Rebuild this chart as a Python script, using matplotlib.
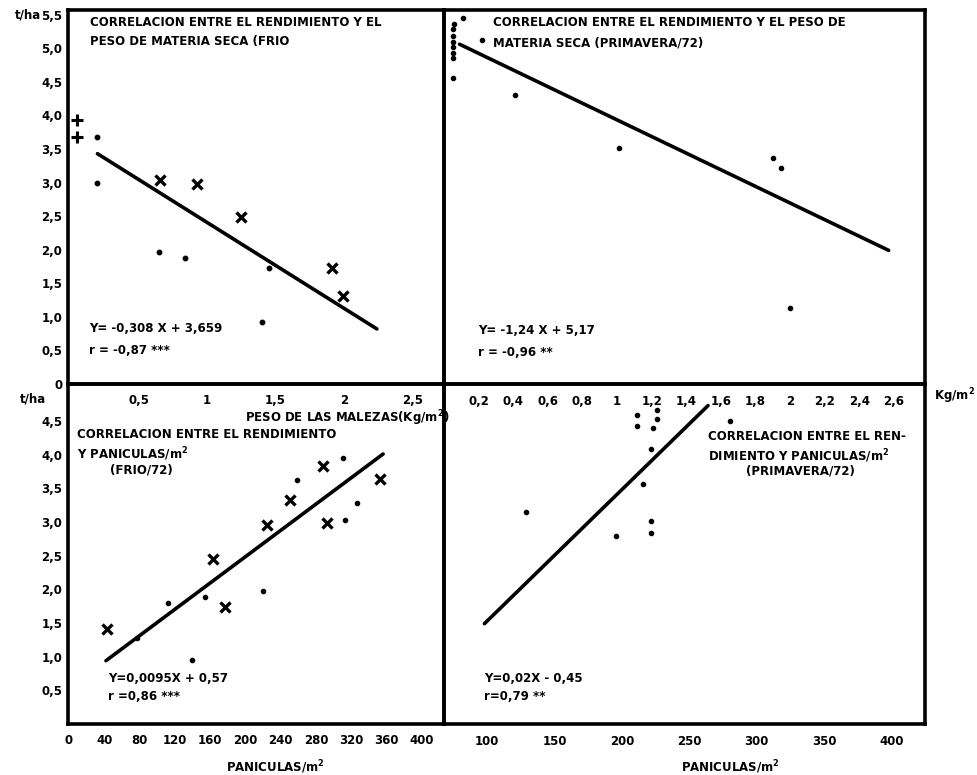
import numpy as np
import matplotlib
matplotlib.use("Agg")
import matplotlib.pyplot as plt

plt.rcParams['font.family'] = ['DejaVu Sans']
plt.rcParams['font.weight'] = 'bold'
plt.rcParams['mathtext.default'] = 'bf'

W, H = 978, 775

# --- top left: rendimiento vs peso de materia seca (FRIO) ---
tl_x_cross = [0.66, 0.93, 1.25, 1.91, 1.99]
tl_y_cross = [3.04, 2.98, 2.48, 1.73, 1.31]
tl_x_plus = [0.05, 0.05]
tl_y_plus = [3.93, 3.68]
tl_x_dot = [0.20, 0.20, 0.65, 0.84, 1.45, 1.40]
tl_y_dot = [3.68, 2.99, 1.96, 1.87, 1.73, 0.93]
tl_line_x = [0.20, 2.24]
tl_line_y = [3.43, 0.82]

# --- top right: rendimiento vs peso de materia seca (PRIMAVERA/72) ---
tr_x_dot = [0.11, 0.06, 0.05, 0.05, 0.05, 0.05, 0.05, 0.05, 0.05, 0.22, 0.41, 1.01, 1.90, 1.95, 2.00]
tr_y_dot = [5.45, 5.36, 5.28, 5.19, 5.10, 5.02, 4.93, 4.86, 4.55, 5.13, 4.31, 3.51, 3.37, 3.22, 1.13]
tr_line_x = [0.09, 2.57]
tr_line_y = [5.06, 1.99]

# --- bottom left: rendimiento vs paniculas/m2 (FRIO/72) ---
bl_x_cross = [43, 163, 177, 224, 250, 288, 293, 352]
bl_y_cross = [1.41, 2.45, 1.74, 2.96, 3.33, 3.83, 2.99, 3.64]
bl_x_dot = [77, 112, 139, 154, 220, 259, 311, 313, 326]
bl_y_dot = [1.28, 1.80, 0.95, 1.89, 1.98, 3.62, 3.95, 3.03, 3.28]
bl_line_x = [42, 356]
bl_line_y = [0.94, 4.01]

# --- bottom right: rendimiento vs paniculas/m2 (PRIMAVERA/72) ---
br_x_dot = [211, 211, 226, 226, 223, 222, 280, 216, 129, 196, 222, 222]
br_y_dot = [4.59, 4.43, 4.67, 4.53, 4.40, 4.09, 4.50, 3.57, 3.15, 2.79, 3.02, 2.84]
br_line_x = [98, 264]
br_line_y = [1.49, 4.73]

# tick labels
tl_yticks = [0, 0.5, 1, 1.5, 2, 2.5, 3, 3.5, 4, 4.5, 5, 5.5]
tl_ylabels = ["0", "0,5", "1,0", "1,5", "2,0", "2,5", "3,0", "3,5", "4,0", "4,5", "5,0", "5,5"]
tl_xticks = [0.5, 1, 1.5, 2, 2.5]
tl_xlabels = ["0,5", "1", "1,5", "2", "2,5"]
tr_xticks = [0.2, 0.4, 0.6, 0.8, 1.0, 1.2, 1.4, 1.6, 1.8, 2.0, 2.2, 2.4, 2.6]
tr_xlabels = ["0,2", "0,4", "0,6", "0,8", "1", "1,2", "1,4", "1,6", "1,8", "2", "2,2", "2,4", "2,6"]
bl_yticks = [0.5, 1, 1.5, 2, 2.5, 3, 3.5, 4, 4.5]
bl_ylabels = ["0,5", "1,0", "1,5", "2,0", "2,5", "3,0", "3,5", "4,0", "4,5"]
bl_xticks = [0, 40, 80, 120, 160, 200, 240, 280, 320, 360, 400]
br_xticks = [100, 150, 200, 250, 300, 350, 400]

fig = plt.figure(figsize=(W / 100, H / 100), dpi=100)


def px_axes(x0, y0, x1, y1):
    ax = fig.add_axes([x0 / W, 1 - y1 / H, (x1 - x0) / W, (y1 - y0) / H])
    ax.set_facecolor('none')
    return ax


def ftext(x, y, s, size=8.5, ha='left'):
    fig.text(x / W, 1 - y / H, s, fontsize=size, fontweight='bold', ha=ha, va='center')


def frame(ax):
    for sp in ax.spines.values():
        sp.set_linewidth(2.6)
    ax.tick_params(length=0, labelsize=8.5)
    for lab in ax.get_xticklabels() + ax.get_yticklabels():
        lab.set_fontweight('bold')


ax1 = px_axes(68, 10, 444, 384)
ax2 = px_axes(444, 10, 925, 384)
ax3 = px_axes(68, 384, 444, 724)
ax4 = px_axes(444, 384, 925, 724)

# top left
ax1.set_xlim(-0.015, 2.73)
ax1.set_ylim(0, 5.57)
ax1.plot(tl_line_x, tl_line_y, color='black', lw=2.6, solid_capstyle='round')
ax1.plot(tl_x_cross, tl_y_cross, 'x', color='black', ms=7, mew=2.4)
ax1.plot(tl_x_plus, tl_y_plus, '+', color='black', ms=9, mew=2.2, clip_on=False)
ax1.plot(tl_x_dot, tl_y_dot, 'o', color='black', ms=3.2)
ax1.set_yticks(tl_yticks)
ax1.set_yticklabels(tl_ylabels)
ax1.set_xticks(tl_xticks)
ax1.set_xticklabels(tl_xlabels)
ax1.tick_params(axis='x', pad=7)
ax1.tick_params(axis='y', pad=4)
frame(ax1)

# top right
ax2.set_xlim(0, 2.78)
ax2.set_ylim(0, 5.57)
ax2.plot(tr_line_x, tr_line_y, color='black', lw=2.6, solid_capstyle='round')
ax2.plot(tr_x_dot, tr_y_dot, 'o', color='black', ms=3.0)
ax2.set_yticks([])
ax2.set_xticks(tr_xticks)
ax2.set_xticklabels(tr_xlabels)
ax2.tick_params(axis='x', pad=8)
frame(ax2)

# bottom left
ax3.set_xlim(-1, 425)
ax3.set_ylim(0, 5.05)
ax3.plot(bl_line_x, bl_line_y, color='black', lw=2.6, solid_capstyle='round')
ax3.plot(bl_x_cross, bl_y_cross, 'x', color='black', ms=7, mew=2.4)
ax3.plot(bl_x_dot, bl_y_dot, 'o', color='black', ms=3.0)
ax3.set_yticks(bl_yticks)
ax3.set_yticklabels(bl_ylabels)
ax3.set_xticks(bl_xticks)
ax3.set_xticklabels([str(v) for v in bl_xticks])
ax3.tick_params(axis='x', pad=7)
ax3.tick_params(axis='y', pad=4)
frame(ax3)

# bottom right
ax4.set_xlim(68, 425)
ax4.set_ylim(0, 5.05)
ax4.plot(br_line_x, br_line_y, color='black', lw=2.6, solid_capstyle='round')
ax4.plot(br_x_dot, br_y_dot, 'o', color='black', ms=3.0)
ax4.set_yticks([])
ax4.set_xticks(br_xticks)
ax4.set_xticklabels([str(v) for v in br_xticks])
ax4.tick_params(axis='x', pad=8)
frame(ax4)

# panel texts
ftext(90, 23, "CORRELACION ENTRE EL RENDIMIENTO Y EL")
ftext(90, 42, "PESO DE MATERIA SECA (FRIO")
ftext(89, 328, "Y= -0,308 X + 3,659")
ftext(89, 350, "r = -0,87 ***")

ftext(493, 23, "CORRELACION ENTRE EL RENDIMIENTO Y EL PESO DE")
ftext(493, 43, "MATERIA SECA (PRIMAVERA/72)")
ftext(478, 330, "Y= -1,24 X + 5,17")
ftext(478, 352, "r = -0,96 **")

ftext(77, 435, "CORRELACION ENTRE EL RENDIMIENTO")
ftext(77, 454, "Y PANICULAS/m$^{2}$")
ftext(110, 470, "(FRIO/72)")
ftext(108, 678, "Y=0,0095X + 0,57")
ftext(108, 697, "r =0,86 ***")

ftext(708, 437, "CORRELACION ENTRE EL REN-")
ftext(708, 456, "DIMIENTO Y PANICULAS/m$^{2}$")
ftext(746, 471, "(PRIMAVERA/72)")
ftext(484, 678, "Y=0,02X - 0,45")
ftext(484, 697, "r=0,79 **")

# axis labels
ftext(28, 15, "t/ha", ha='center')
ftext(33, 399, "t/ha", ha='center')
ftext(245, 418, "PESO DE LAS MALEZAS(Kg/m$^{2}$)")
ftext(955, 396, "Kg/m$^{2}$", ha='center')
ftext(275, 767, "PANICULAS/m$^{2}$", ha='center')
ftext(730, 767, "PANICULAS/m$^{2}$", ha='center')

fig.savefig("out.png", dpi=100)
